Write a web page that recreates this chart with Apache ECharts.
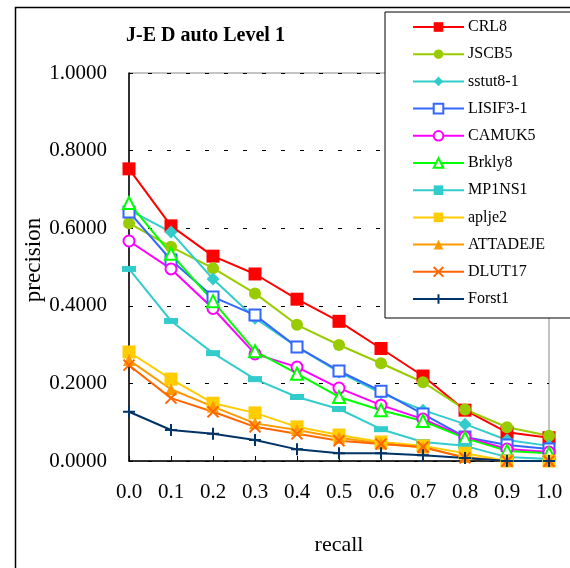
<!DOCTYPE html>
<html>
<head>
<meta charset="utf-8">
<script src="https://cdn.jsdelivr.net/npm/echarts@6/dist/echarts.min.js"></script>
<style>
  html, body { margin: 0; padding: 0; background: #fff; }
  #chart { width: 570px; height: 568px; }
</style>
</head>
<body>
<div id="chart"></div>
<script>
// recall levels (x axis)
var recall = [0.0, 0.1, 0.2, 0.3, 0.4, 0.5, 0.6, 0.7, 0.8, 0.9, 1.0];

// precision per run
var crl8     = [0.753, 0.606, 0.528, 0.482, 0.417, 0.360, 0.290, 0.219, 0.131, 0.074, 0.060];
var jscb5    = [0.613, 0.552, 0.497, 0.432, 0.351, 0.299, 0.252, 0.203, 0.133, 0.087, 0.065];
var sstut81  = [0.647, 0.590, 0.469, 0.368, 0.294, 0.229, 0.175, 0.131, 0.095, 0.054, 0.039];
var lisif31  = [0.642, 0.518, 0.423, 0.376, 0.294, 0.232, 0.180, 0.121, 0.062, 0.041, 0.031];
var camuk5   = [0.567, 0.495, 0.393, 0.276, 0.242, 0.188, 0.144, 0.108, 0.062, 0.031, 0.023];
var brkly8   = [0.665, 0.534, 0.412, 0.283, 0.225, 0.165, 0.131, 0.103, 0.059, 0.026, 0.020];
var mp1ns1   = [0.495, 0.361, 0.278, 0.211, 0.165, 0.134, 0.082, 0.049, 0.039, 0.010, 0.005];
var aplje2   = [0.281, 0.211, 0.149, 0.124, 0.088, 0.067, 0.049, 0.039, 0.020, 0.000, 0.000];
var attadeje = [0.260, 0.185, 0.140, 0.097, 0.080, 0.060, 0.045, 0.035, 0.010, 0.000, 0.000];
var dlut17   = [0.247, 0.162, 0.127, 0.088, 0.070, 0.052, 0.044, 0.036, 0.008, 0.000, 0.000];
var forst1   = [0.127, 0.080, 0.070, 0.054, 0.030, 0.020, 0.020, 0.015, 0.008, 0.000, 0.000];

var yTicks = [0, 0.2, 0.4, 0.6, 0.8, 1.0];

var FONT = "'Liberation Serif', 'Times New Roman', serif";

function pairs(vals) {
  return recall.map(function (r, i) { return [r, vals[i]]; });
}

function mk(name, vals, color, symbol, size, extra) {
  var s = {
    name: name,
    type: "line",
    data: pairs(vals),
    symbol: symbol,
    symbolSize: size,
    showAllSymbol: true,
    lineStyle: { color: color, width: 2 },
    itemStyle: { color: color, borderColor: color, borderWidth: 0 },
    emphasis: { disabled: true },
    z: 2
  };
  if (extra) {
    for (var k in extra) s[k] = extra[k];
  }
  return s;
}

var chart = echarts.init(document.getElementById("chart"));

var option = {
  animation: false,
  backgroundColor: "#fff",
  textStyle: { fontFamily: FONT },
  graphic: [
    {
      type: "rect",
      left: 13,
      top: 5,
      shape: { width: 620, height: 620 },
      style: { fill: "none", stroke: "#000", lineWidth: 1.5 },
      silent: true
    }
  ],
  title: {
    text: "J-E D auto Level 1",
    left: 121,
    top: 21,
    textStyle: { fontFamily: FONT, fontWeight: "bold", fontSize: 20, color: "#000" }
  },
  legend: {
    orient: "vertical",
    left: 385,
    top: 12,
    padding: [7, 120, 11, 27],
    itemWidth: 51,
    itemHeight: 12,
    itemGap: 11.2,
    borderColor: "#000",
    borderWidth: 1,
    backgroundColor: "#fff",
    textStyle: { fontFamily: FONT, fontSize: 16, color: "#000", padding: [0, 0, 0, -1] },
    data: ["CRL8", "JSCB5", "sstut8-1", "LISIF3-1", "CAMUK5", "Brkly8", "MP1NS1", "aplje2", "ATTADEJE", "DLUT17", "Forst1"]
  },
  grid: {
    left: 129,
    top: 73,
    right: 21,
    bottom: 107,
    show: true,
    borderColor: "#888",
    borderWidth: 1
  },
  xAxis: {
    type: "value",
    min: 0,
    max: 1,
    interval: 0.1,
    name: "recall",
    nameLocation: "middle",
    nameGap: 73,
    nameMoveOverlap: false,
    nameTextStyle: { fontFamily: FONT, fontSize: 22, color: "#000" },
    axisLine: { lineStyle: { color: "#000", width: 1.5 } },
    axisTick: { inside: true, length: 5, lineStyle: { color: "#000" } },
    axisLabel: {
      margin: 21,
      fontFamily: FONT,
      fontSize: 21,
      color: "#000",
      formatter: function (v) { return v.toFixed(1); }
    },
    splitLine: { show: false }
  },
  yAxis: {
    type: "value",
    min: yTicks[0],
    max: yTicks[yTicks.length - 1],
    interval: 0.2,
    name: "precision",
    nameLocation: "middle",
    nameGap: 84,
    nameMoveOverlap: false,
    nameTextStyle: { fontFamily: FONT, fontSize: 23, color: "#000", padding: [0, 0, 0, 14] },
    axisLine: { show: true, lineStyle: { color: "#000", width: 1.5 } },
    axisTick: { show: false },
    axisLabel: {
      margin: 22,
      fontFamily: FONT,
      fontSize: 21,
      color: "#000",
      formatter: function (v) { return v.toFixed(4); }
    },
    splitLine: { show: true, lineStyle: { color: "#000", type: [4, 15], width: 1 } }
  },
  series: [
    mk("CRL8", crl8, "#FF0000", "rect", 13),
    mk("JSCB5", jscb5, "#99CC00", "circle", 12),
    mk("sstut8-1", sstut81, "#33CCCC", "diamond", 13),
    mk("LISIF3-1", lisif31, "#3366FF", "emptyRect", 11, {
      itemStyle: { color: "#3366FF", borderColor: "#3366FF", borderWidth: 2 }
    }),
    mk("CAMUK5", camuk5, "#FF00FF", "emptyCircle", 11, {
      itemStyle: { color: "#FF00FF", borderColor: "#FF00FF", borderWidth: 2 }
    }),
    mk("Brkly8", brkly8, "#00FF00", "emptyTriangle", 12, {
      itemStyle: { color: "#00FF00", borderColor: "#00FF00", borderWidth: 2 }
    }),
    mk("MP1NS1", mp1ns1, "#33CCCC", "rect", [14, 6]),
    mk("aplje2", aplje2, "#FFCC00", "rect", 13),
    mk("ATTADEJE", attadeje, "#FF9900", "triangle", 12),
    mk("DLUT17", dlut17, "#FF6600", "path://M0,0L10,10M10,0L0,10", 11, {
      itemStyle: { color: "#FF6600", borderColor: "#FF6600", borderWidth: 2 }
    }),
    mk("Forst1", forst1, "#003366", "path://M5,0L5,10M0,5L10,5", 12, {
      itemStyle: { color: "#003366", borderColor: "#003366", borderWidth: 2 }
    })
  ]
};

chart.setOption(option);
</script>
</body>
</html>
